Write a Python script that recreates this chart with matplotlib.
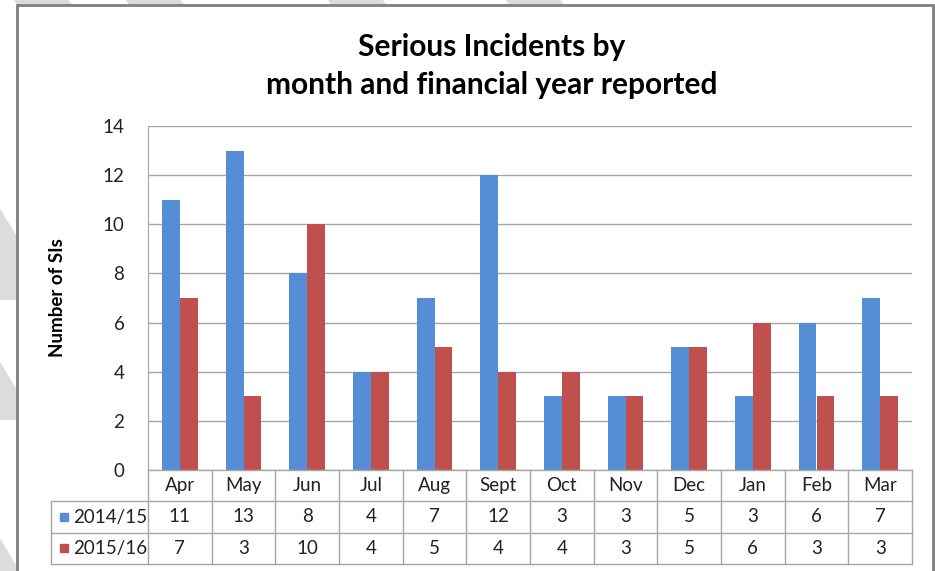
import matplotlib.pyplot as plt
from matplotlib.patches import Rectangle, Polygon
import numpy as np

months = ["Apr", "May", "Jun", "Jul", "Aug", "Sept", "Oct", "Nov", "Dec", "Jan", "Feb", "Mar"]
fy1415 = [11, 13, 8, 4, 7, 12, 3, 3, 5, 3, 6, 7]
fy1516 = [7, 3, 10, 4, 5, 4, 4, 3, 5, 6, 3, 3]
series_names = ["2014/15", "2015/16"]
yticks = [0, 2, 4, 6, 8, 10, 12, 14]

blue = "#558ed5"
red = "#c0504d"
grid_c = "#a6a6a6"
txt_c = "#222222"
fs = 13.5
plt.rcParams["font.family"] = ["Lato", "DejaVu Sans"]

W, H = 935, 571
fig = plt.figure(figsize=(W / 100, H / 100), dpi=100)


def px(x0, y0, x1, y1):
    # pixel box (top-left origin) -> figure fraction rect
    return [x0 / W, 1 - y1 / H, (x1 - x0) / W, (y1 - y0) / H]


# faint watermark bands behind the chart
bg = fig.add_axes([0, 0, 1, 1], zorder=0)
bg.set_xlim(0, W)
bg.set_ylim(H, 0)
bg.axis("off")
for x0, y0 in [(-10, -40), (90, -60), (310, -30), (470, -60), (-120, 100), (-140, 220), (-150, 380)]:
    bg.add_patch(Polygon([(x0, y0), (x0 + 55, y0), (x0 + 175, y0 + 200), (x0 + 120, y0 + 200)],
                         closed=True, color="#dcdcdc", lw=0))
bg.add_patch(Rectangle((17, 5), 916, 600, facecolor="white", edgecolor="#7f7f7f", lw=2))

# main bar chart
ax = fig.add_axes(px(148, 126, 912, 470), zorder=2)
x = np.arange(len(months))
w = 0.28
ax.bar(x - w / 2, fy1415, w, color=blue, zorder=3)
ax.bar(x + w / 2, fy1516, w, color=red, zorder=3)
ax.set_xlim(-0.5, len(months) - 0.5)
ax.set_ylim(0, 14)
ax.set_yticks(yticks)
ax.set_xticks([])
ax.tick_params(axis="y", length=0, pad=17, labelsize=fs, labelcolor=txt_c)
ax.grid(axis="y", color=grid_c, lw=1, zorder=0)
for s in ["top", "right", "bottom"]:
    ax.spines[s].set_visible(False)
ax.spines["left"].set_color(grid_c)
ax.patch.set_alpha(0)
ax.set_ylabel("Number of SIs", fontsize=13.5, fontweight="bold")
ax.yaxis.set_label_coords((66 - 148) / (912 - 148), 0.5)

fig.text(492 / W, 1 - 47 / H, "Serious Incidents by", ha="center", va="center",
         fontsize=21.5, fontweight="bold")
fig.text(492 / W, 1 - 85 / H, "month and financial year reported", ha="center", va="center",
         fontsize=21.5, fontweight="bold")

# data table under the chart
cw = (912 - 148) / len(months)
left = -0.5 - (148 - 51) / cw
tab = fig.add_axes(px(51, 470, 912, 564), zorder=2)
tab.set_xlim(left, len(months) - 0.5)
tab.set_ylim(3, 0)
tab.axis("off")
kw = dict(color=grid_c, lw=1, clip_on=False)
tab.plot([-0.5, len(months) - 0.5], [0, 0], **kw)
for r in [1, 2, 3]:
    tab.plot([left, len(months) - 0.5], [r, r], **kw)
tab.plot([left, left], [1, 3], **kw)
for k in range(len(months) + 1):
    tab.plot([k - 0.5, k - 0.5], [0, 3], **kw)
for i, m in enumerate(months):
    tab.text(i, 0.5, m, ha="center", va="center", fontsize=fs, color=txt_c)
    tab.text(i, 1.5, str(fy1415[i]), ha="center", va="center", fontsize=fs, color=txt_c)
    tab.text(i, 2.5, str(fy1516[i]), ha="center", va="center", fontsize=fs, color=txt_c)
sq = 8 / cw
for r, (name, c) in enumerate(zip(series_names, [blue, red])):
    tab.add_patch(Rectangle((left + 9 / cw, r + 1.5 - 0.13), sq, 0.26, color=c))
    tab.text(left + 22 / cw, r + 1.5, name, ha="left", va="center", fontsize=fs, color=txt_c)

fig.savefig("out.png", dpi=100)
